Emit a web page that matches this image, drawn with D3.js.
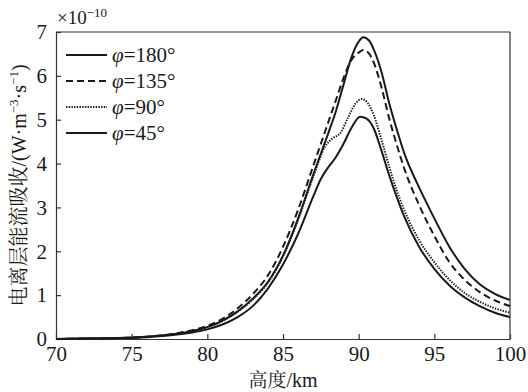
<!DOCTYPE html>
<html><head><meta charset="utf-8">
<script src="https://cdn.jsdelivr.net/npm/d3@7"></script>
<style>
body{margin:0;background:#fff}
svg{display:block}
svg text{font-family:'Liberation Serif',serif;fill:#1a1a1a}
svg text .cjk{font-family:'Noto Serif CJK SC','Liberation Serif',serif}
</style>
</head><body><svg id="c" width="528" height="392"></svg>
<script>
// ---- data ----
const xTicks = [70, 75, 80, 85, 90, 95, 100];
const yTicks = [0, 1, 2, 3, 4, 5, 6, 7];
const seriesLabels = ["180°", "135°", "90°", "45°"];

const x180 = [70,72,74,76,78,79,80,81,82,83,84,85,86,87,88,88.5,89,89.5,90,90.3,90.7,91,91.5,92,92.5,93,94,95,96,97,98,99,100];
const y180 = [0,0.01,0.02,0.05,0.12,0.18,0.27,0.42,0.63,0.92,1.3,1.9,2.75,3.75,4.7,5.2,5.8,6.4,6.78,6.88,6.8,6.6,6.1,5.4,4.8,4.25,3.45,2.75,2.1,1.6,1.25,1.03,0.89];

const x135 = [70,72,74,76,78,79,80,81,82,83,84,85,86,87,88,88.5,89,89.5,90,90.3,90.7,91,91.5,92,92.5,93,94,95,96,97,98,99,100];
const y135 = [0,0.01,0.02,0.05,0.13,0.2,0.3,0.46,0.7,1.02,1.45,2.1,2.95,3.95,4.95,5.45,5.95,6.35,6.53,6.59,6.5,6.3,5.75,5.05,4.45,3.9,3.05,2.35,1.75,1.35,1.07,0.88,0.75];

const x90 = [70,72,74,76,78,79,80,81,82,83,84,85,86,87,87.8,88.3,88.8,89.3,89.8,90.2,90.6,91,91.5,92,92.5,93,94,95,96,97,98,99,100];
const y90 = [0,0.01,0.02,0.05,0.12,0.18,0.27,0.41,0.62,0.9,1.28,1.88,2.72,3.7,4.4,4.58,4.7,5.05,5.37,5.47,5.38,5.1,4.55,3.95,3.4,2.95,2.25,1.75,1.35,1.05,0.85,0.7,0.6];

const x45 = [70,72,74,76,78,79,80,81,82,83,84,85,86,87,87.5,88,88.5,89,89.5,90.1,90.5,91,91.5,92,92.5,93,94,95,96,97,98,99,100];
const y45 = [0,0.01,0.02,0.04,0.1,0.15,0.22,0.33,0.5,0.75,1.15,1.7,2.4,3.25,3.65,3.92,4.15,4.45,4.8,5.07,5.03,4.8,4.3,3.75,3.25,2.8,2.1,1.6,1.22,0.95,0.75,0.6,0.5];

// ---- layout ----
const svg = d3.select("#c");
const L = 56, R = 510, T = 32, B = 339;
const xs = d3.scaleLinear().domain([70, 100]).range([L, R]);
const ys = d3.scaleLinear().domain([0, 7]).range([B, T]);
const ink = "#1a1a1a";
const SERIF = "'Liberation Serif', Tinos, 'Times New Roman', serif";
const CJK = "'Noto Serif CJK SC', 'Liberation Serif', serif";

// axes
const xAxis = d3.axisBottom(xs).tickValues(xTicks).tickFormat(d3.format("d")).tickSizeInner(-5).tickSizeOuter(0).tickPadding(7);
const yAxis = d3.axisLeft(ys).tickValues(yTicks).tickFormat(d3.format("d")).tickSizeInner(-5).tickSizeOuter(0).tickPadding(9);
const gx = svg.append("g").attr("transform", `translate(0,${B})`).call(xAxis);
const gy = svg.append("g").attr("transform", `translate(${L},0)`).call(yAxis);
[gx, gy].forEach(g => {
  g.attr("font-family", SERIF).attr("font-size", 21);
  g.selectAll("path,line").attr("stroke", "#333").attr("stroke-width", 1.2);
  g.selectAll("text").attr("font-family", SERIF).style("font-family", SERIF).style("font-size", "21px").attr("fill", ink);
});
gx.selectAll("text").attr("dy", "0.71em");
// box top/right
svg.append("line").attr("x1", L).attr("x2", R).attr("y1", T).attr("y2", T).attr("stroke", "#333").attr("stroke-width", 1.2);
svg.append("line").attr("x1", R).attr("x2", R).attr("y1", T).attr("y2", B).attr("stroke", "#333").attr("stroke-width", 1.2);

// lines
const styles = [
  {dash: null},
  {dash: "7,4"},
  {dash: "1.4,1.3"},
  {dash: null}
];
const data = [[x180, y180], [x135, y135], [x90, y90], [x45, y45]];
const line = d3.line().x(d => xs(d[0])).y(d => ys(d[1])).curve(d3.curveMonotoneX);
data.forEach((s, i) => {
  const pts = s[0].map((v, j) => [v, s[1][j]]);
  svg.append("path").attr("d", line(pts)).attr("fill", "none")
    .attr("stroke", ink).attr("stroke-width", 2)
    .attr("stroke-dasharray", styles[i].dash);
});

// legend
const lg = svg.append("g");
seriesLabels.forEach((lab, i) => {
  const yy = 55 + i * 26;
  lg.append("line").attr("x1", 66).attr("x2", 107).attr("y1", yy).attr("y2", yy)
    .attr("stroke", ink).attr("stroke-width", 2).attr("stroke-dasharray", styles[i].dash);
  const t = lg.append("text").attr("x", 112).attr("y", yy + 7).style("font-family", SERIF).style("font-size", "21px");
  t.append("tspan").style("font-family", SERIF).style("font-style", "italic").text("φ");
  t.append("tspan").style("font-family", SERIF).text("=" + lab);
});

// exponent
const ex = svg.append("text").attr("x", 57).attr("y", 24).style("font-family", SERIF).style("font-size", "19px");
ex.append("tspan").text("×10");
ex.append("tspan").style("font-size", "13px").attr("dy", -7).text("−10");

// x title
const xt = svg.append("text").attr("x", (L + R) / 2).attr("y", 387).attr("text-anchor", "middle")
  .style("font-family", SERIF).style("font-size", "19px");
xt.append("tspan").attr("class", "cjk").style("font-family", CJK).text("高度");
xt.append("tspan").style("font-family", SERIF).style("font-size", "20px").text("/km");

// y title
const yt = svg.append("text").attr("transform", `translate(26,${(T + B) / 2}) rotate(-90)`)
  .attr("text-anchor", "middle").style("font-family", SERIF).style("font-size", "20px");
yt.append("tspan").attr("class", "cjk").style("font-family", CJK).text("电离层能流吸收");
yt.append("tspan").text("/(W·m");
yt.append("tspan").style("font-size", "13px").attr("dy", -8).text("−3");
yt.append("tspan").attr("dy", 8).text("·s");
yt.append("tspan").style("font-size", "13px").attr("dy", -8).text("−1");
yt.append("tspan").attr("dy", 8).text(")");
</script></body></html>
